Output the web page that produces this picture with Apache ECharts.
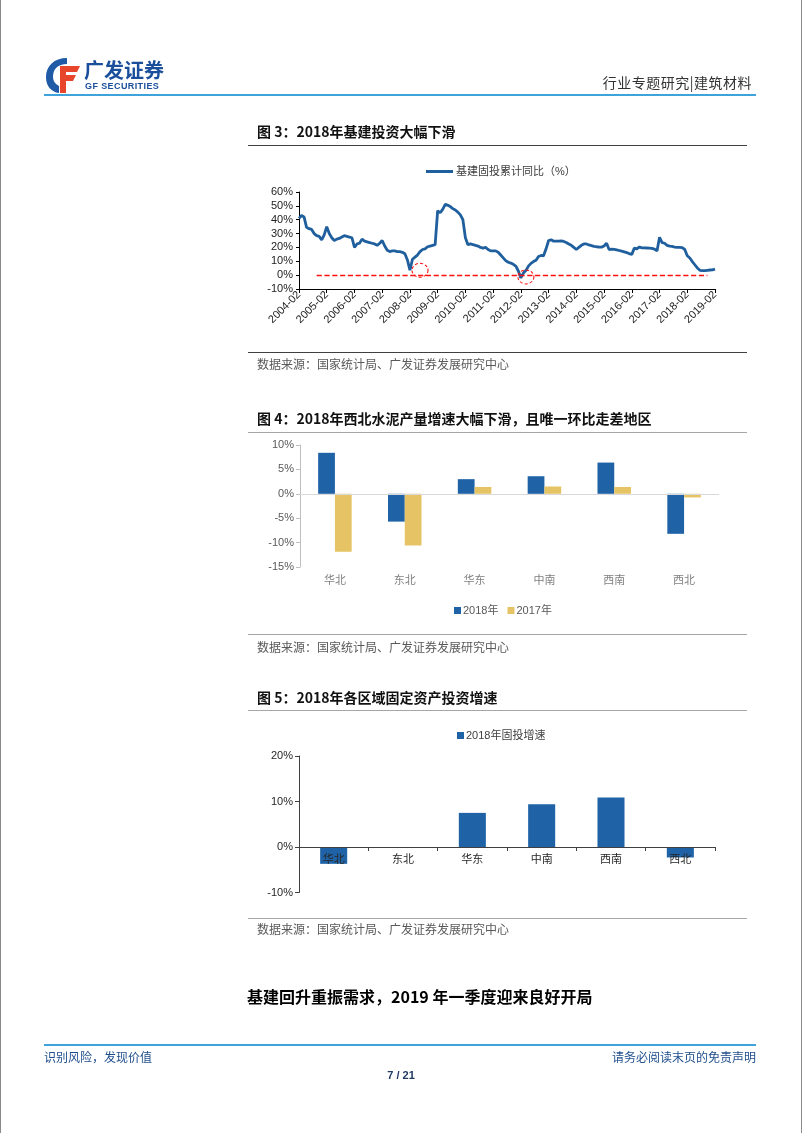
<!DOCTYPE html>
<html><head><meta charset="utf-8">
<script src="https://cdn.jsdelivr.net/npm/echarts@6/dist/echarts.min.js"></script>
<style>
body{margin:0;background:#fff;}
#page{position:relative;width:802px;height:1133px;overflow:hidden;background:#fff;font-family:"Noto Sans CJK SC","Liberation Sans",sans-serif;}
#chart{position:absolute;left:0;top:0;width:802px;height:1133px;}
.t{position:absolute;white-space:nowrap;line-height:1;}
.rule{position:absolute;height:0;}
#frame{position:absolute;left:0;top:0;width:800px;height:1133px;border-left:1px solid #8a8a8a;border-right:1px solid #8a8a8a;pointer-events:none;}
</style></head>
<body>
<div id="page">
  <div id="chart"></div>
  <div id="frame"></div>
  <!-- header -->
  <svg class="t" style="left:45px;top:57px" width="36" height="37" viewBox="0 0 36 37">
    <path d="M22 1 C9 1 1 9 1 20 C1 29 6 35 14 36 L14 29 C10 27 8 24 8 20 C8 12 13 7 22 7 Z" fill="#1f5aa6"/>
    <path d="M15 9 H35 L32 15 H21 V18 H31 L28 24 H21 V36 H15 Z" fill="#e8462c"/>
  </svg>
  <div class="t" style="left:84px;top:60px;font-size:20px;font-weight:bold;color:#1b4f9c;">广发证券</div>
  <div class="t" style="left:85px;top:82px;font-size:9px;font-weight:bold;color:#1b4f9c;font-family:'Liberation Sans';letter-spacing:0.4px;">GF SECURITIES</div>
  <div class="t" style="right:50px;top:75px;font-size:14px;color:#333;letter-spacing:0.5px;">行业专题研究|建筑材料</div>
  <div class="rule" style="left:44px;width:712px;top:94px;border-top:2px solid #3ea2db;"></div>

  <!-- figure 3 -->
  <div class="t" style="left:257px;top:124px;font-size:14px;font-weight:bold;color:#111;">图 3：2018年基建投资大幅下滑</div>
  <div class="rule" style="left:248px;width:499px;top:145px;border-top:1.5px solid #404040;"></div>
  <div class="rule" style="left:248px;width:499px;top:352px;border-top:1px solid #404040;"></div>
  <div class="t" style="left:257px;top:358px;font-size:12px;color:#595959;">数据来源：国家统计局、广发证券发展研究中心</div>

  <!-- figure 4 -->
  <div class="t" style="left:257px;top:411px;font-size:14px;font-weight:bold;color:#111;">图 4：2018年西北水泥产量增速大幅下滑，且唯一环比走差地区</div>
  <div class="rule" style="left:248px;width:499px;top:432px;border-top:1px solid #a6a6a6;"></div>
  <div class="rule" style="left:248px;width:499px;top:634px;border-top:1px solid #a6a6a6;"></div>
  <div class="t" style="left:257px;top:641px;font-size:12px;color:#595959;">数据来源：国家统计局、广发证券发展研究中心</div>

  <!-- figure 5 -->
  <div class="t" style="left:257px;top:690px;font-size:14px;font-weight:bold;color:#111;">图 5：2018年各区域固定资产投资增速</div>
  <div class="rule" style="left:248px;width:499px;top:710px;border-top:1px solid #a6a6a6;"></div>
  <div class="rule" style="left:248px;width:499px;top:918px;border-top:1px solid #a6a6a6;"></div>
  <div class="t" style="left:257px;top:923px;font-size:12px;color:#595959;">数据来源：国家统计局、广发证券发展研究中心</div>

  <!-- section heading -->
  <div class="t" style="left:247px;top:988px;font-size:16px;font-weight:bold;color:#000;">基建回升重振需求，2019 年一季度迎来良好开局</div>

  <!-- footer -->
  <div class="rule" style="left:44px;width:712px;top:1044px;border-top:2px solid #3ea2db;"></div>
  <div class="t" style="left:44px;top:1051px;font-size:12px;color:#1f4e8c;">识别风险，发现价值</div>
  <div class="t" style="right:46px;top:1051px;font-size:12px;color:#1f4e8c;">请务必阅读末页的免责声明</div>
  <div class="t" style="left:0;width:802px;text-align:center;top:1070px;font-size:11px;font-weight:bold;color:#1f3864;font-family:'Liberation Sans';">7 / 21</div>
</div>
<script>
// ---------- Figure 3: infrastructure FAI cumulative YoY (%), Feb–Dec each year ----------
const fig3Years = ['2004','2005','2006','2007','2008','2009','2010','2011','2012','2013','2014','2015','2016','2017','2018'];
const fig3Months = ['02','03','04','05','06','07','08','09','10','11','12'];
const fig3LastLabel = '2019-02';
const infraYoY = [
  41, 43, 42, 34.5, 33.5, 33, 30, 28.5, 28, 25.5, 29,          // 2004
  35, 30, 27, 25, 26, 26.5, 27.5, 28.5, 28, 27.5, 27,          // 2005
  20, 22.5, 23, 26, 24.5, 24, 23.5, 23, 22.5, 21.5, 23,        // 2006
  25, 21, 18, 17, 17.5, 17.5, 17, 17, 16.5, 15.5, 11,          // 2007
  3.5, 11.5, 13, 14.5, 17, 18.5, 19, 20.5, 21, 21.5, 22,       // 2008
  46.5, 45, 47.5, 51, 50.5, 49.5, 48, 47, 45.5, 43.5, 40,      // 2009
  27, 22, 22.5, 22, 21.5, 21, 20, 19.5, 20, 18.5, 17.5,        // 2010
  17.5, 17.5, 16.5, 14.5, 12.5, 10.5, 9.3, 8.7, 7.8, 6.5, 3,   // 2011
  -2, 1.5, 3.3, 6.5, 8.5, 9.8, 10.8, 13.5, 14.2, 14, 19,       // 2012
  25, 25.5, 24.5, 24.5, 24.5, 24.7, 24.3, 23.5, 22.5, 21.5, 20,// 2013
  18.5, 20, 21.5, 22.5, 22.5, 21.8, 21.3, 20.8, 20.5, 20.3, 20.2, // 2014
  21, 23, 18.5, 18.8, 18.6, 18.3, 17.8, 17.3, 16.8, 16.3, 15.5,   // 2015
  15, 19.5, 19, 20.3, 19.7, 19.7, 19.6, 19.5, 19.3, 18.8, 17.5,   // 2016
  27.3, 23.5, 23, 21.5, 21, 20.7, 20.3, 20, 20, 19.8, 18.5,       // 2017
  14, 12.4, 9.8, 7.5, 5.2, 3.5, 3.3, 3.3, 3.5, 3.7, 3.8,          // 2018
  4.4                                                             // 2019-02
];
const fig3YTicks = {min: -10, max: 60, interval: 10};
// reference line at 0 and the two dashed circles (annotations, category index / value)
const fig3RefLine = {fromIndex: 7, toIndex: 162, value: 0};
const fig3Circles = [[48, 3.5], [90, -1.3]];

// ---------- Figure 4: cement output growth by region ----------
const regions = ['华北', '东北', '华东', '中南', '西南', '西北'];
const cement2018 = [8.4, -5.7, 3.0, 3.6, 6.4, -8.2];
const cement2017 = [-11.9, -10.6, 1.4, 1.5, 1.4, -0.75];
const fig4YTicks = {min: -15, max: 10, interval: 5};

// ---------- Figure 5: 2018 FAI growth by region ----------
const fai2018 = [-3.7, -0.15, 7.5, 9.4, 10.9, -2.3];
const fig5YTicks = {min: -10, max: 20, interval: 10};

const monthLabels = [];
fig3Years.forEach(y => fig3Months.forEach(m => monthLabels.push(y + '-' + m)));
monthLabels.push(fig3LastLabel);

const BLUE_LINE = '#1f5f9e';
const BLUE_BAR = '#1f63a6';
const YELLOW = '#e6c466';
const RED = '#ff1010';
const FONT = '"Liberation Sans","Noto Sans CJK SC",sans-serif';
const pct = v => v + '%';

// figure 5 plot geometry (the category axis sits on the 0% line)
const g5 = {left: 299, top: 756, width: 416, height: 136.5};
const g5Zero = g5.height * (fig5YTicks.max / (fig5YTicks.max - fig5YTicks.min));

const chart = echarts.init(document.getElementById('chart'), null, {renderer: 'canvas'});
chart.setOption({
  animation: false,
  textStyle: {fontFamily: FONT},
  legend: [
    {data: ['基建固投累计同比（%）'], left: 421, top: 161, icon: 'rect', itemWidth: 27, itemHeight: 3,
     textStyle: {fontSize: 11, color: '#404040', fontFamily: FONT, padding: [0, 0, 0, -2]}},
    {data: ['2018年', '2017年'], left: 449, top: 600, icon: 'rect', itemWidth: 7, itemHeight: 7, itemGap: 9,
     textStyle: {fontSize: 11, color: '#595959', fontFamily: FONT, padding: [0, 0, 0, -3]}},
    {data: ['2018年固投增速'], left: 452, top: 725, icon: 'rect', itemWidth: 7, itemHeight: 7,
     textStyle: {fontSize: 11, color: '#404040', fontFamily: FONT, padding: [0, 0, 0, -3]}}
  ],
  grid: [
    {left: 299, top: 192, width: 416, height: 97},
    {left: 300, top: 445, width: 419, height: 122},
    {left: g5.left, top: g5.top, width: g5.width, height: g5.height},
    {left: g5.left, top: g5.top, width: g5.width, height: g5Zero}
  ],
  xAxis: [
    {type: 'category', gridIndex: 0, data: monthLabels, boundaryGap: false,
     axisLine: {onZero: false, lineStyle: {color: '#000', width: 1}},
     axisTick: {interval: 10, length: 4, lineStyle: {color: '#000'}},
     axisLabel: {interval: 10, rotate: 45, fontSize: 11, color: '#222', margin: 4}},
    {type: 'category', gridIndex: 1, data: regions,
     axisLine: {show: false, onZero: false}, axisTick: {show: false},
     axisLabel: {fontSize: 11, color: '#7f7f7f', margin: 8}},
    {type: 'category', gridIndex: 2, data: regions,
     axisLine: {show: false}, axisTick: {show: false}, axisLabel: {show: false}},
    {type: 'category', gridIndex: 3, data: regions, z: 10,
     axisLine: {onZero: false, lineStyle: {color: '#404040', width: 1}},
     axisTick: {show: true, length: 4, lineStyle: {color: '#404040'}},
     axisLabel: {fontSize: 11, color: '#262626', margin: 7}}
  ],
  yAxis: [
    {type: 'value', gridIndex: 0, min: fig3YTicks.min, max: fig3YTicks.max, interval: fig3YTicks.interval,
     axisLine: {show: true, lineStyle: {color: '#000'}}, axisTick: {show: true, length: 3, lineStyle: {color: '#000'}},
     splitLine: {show: false}, axisLabel: {formatter: pct, fontSize: 11, color: '#222', margin: 6}},
    {type: 'value', gridIndex: 1, min: fig4YTicks.min, max: fig4YTicks.max, interval: fig4YTicks.interval,
     axisLine: {show: true, lineStyle: {color: '#bfbfbf'}}, axisTick: {show: true, length: 4, lineStyle: {color: '#bfbfbf'}},
     splitLine: {show: false}, axisLabel: {formatter: pct, fontSize: 11, color: '#595959', margin: 6}},
    {type: 'value', gridIndex: 2, min: fig5YTicks.min, max: fig5YTicks.max, interval: fig5YTicks.interval,
     axisLine: {show: true, lineStyle: {color: '#404040'}}, axisTick: {show: true, length: 4, lineStyle: {color: '#404040'}},
     splitLine: {show: false}, axisLabel: {formatter: pct, fontSize: 11, color: '#262626', margin: 6}},
    {type: 'value', gridIndex: 3, show: false}
  ],
  series: [
    {type: 'line', name: '基建固投累计同比（%）', xAxisIndex: 0, yAxisIndex: 0, data: infraYoY,
     symbol: 'none', color: BLUE_LINE, lineStyle: {width: 2.8, color: BLUE_LINE}, z: 3,
     markLine: {silent: true, symbol: ['none', 'none'], label: {show: false}, precision: 2,
       lineStyle: {color: RED, type: 'dashed', width: 1.3},
       data: [[{coord: [fig3RefLine.fromIndex, fig3RefLine.value]},
               {coord: [fig3RefLine.toIndex, fig3RefLine.value]}]]},
     markPoint: {silent: true, symbol: 'circle', symbolSize: [16, 14], label: {show: false},
       itemStyle: {color: 'rgba(0,0,0,0)', borderColor: RED, borderWidth: 1, borderType: [3, 2]},
       data: fig3Circles.map(c => ({coord: c}))}},
    {type: 'bar', name: '2018年', xAxisIndex: 1, yAxisIndex: 1, data: cement2018, color: BLUE_BAR,
     barGap: '0%', barCategoryGap: '52%',
     markLine: {silent: true, symbol: ['none', 'none'], label: {show: false},
       lineStyle: {color: '#d9d9d9', type: 'solid', width: 1}, data: [{yAxis: 0}]}},
    {type: 'bar', name: '2017年', xAxisIndex: 1, yAxisIndex: 1, data: cement2017, color: YELLOW,
     barGap: '0%', barCategoryGap: '52%'},
    {type: 'bar', name: '2018年固投增速', xAxisIndex: 2, yAxisIndex: 2, data: fai2018, color: BLUE_BAR,
     barCategoryGap: '61%'}
  ]
});
</script>
</body></html>
